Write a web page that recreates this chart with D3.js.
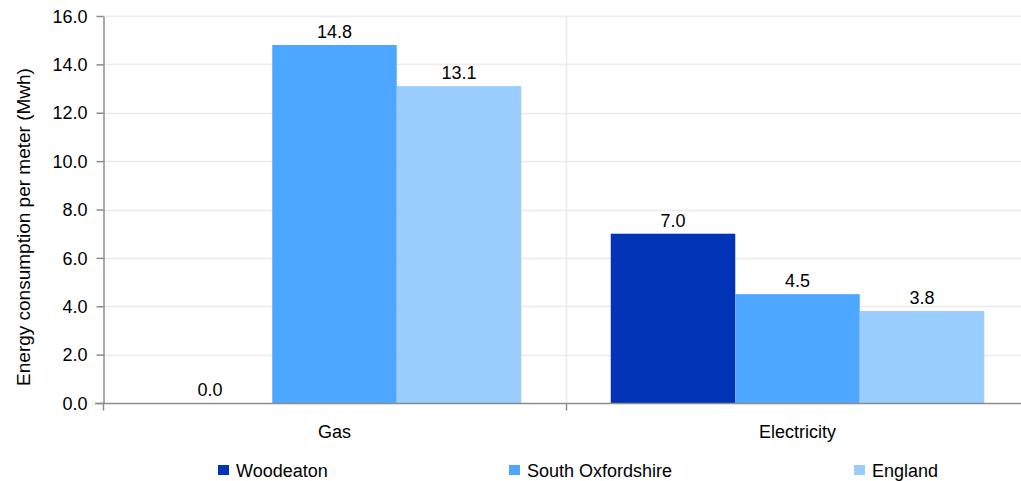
<!DOCTYPE html>
<html><head><meta charset="utf-8">
<script src="https://cdn.jsdelivr.net/npm/d3@7"></script>
<style>body{margin:0;background:#fff}svg{display:block;font-family:"Liberation Sans",Arial,sans-serif}</style>
</head><body>
<svg id="c" width="1021" height="481"></svg>
<script>
const categories = ["Gas", "Electricity"];
const seriesNames = ["Woodeaton", "South Oxfordshire", "England"];
const woodeaton = [0.0, 7.0];
const southOxfordshire = [14.8, 4.5];
const england = [13.1, 3.8];
const yTicks = [0, 2, 4, 6, 8, 10, 12, 14, 16];
const colors = ["#0033b5", "#4da6ff", "#99ccff"];
const seriesValues = [woodeaton, southOxfordshire, england];

(function () {
const svg = d3.select("#c");
const FS = 18;
const pL = 103, pR = 1029, pT = 16, pB = 403;
const x = d3.scaleBand().domain(categories).range([pL, pR]).paddingInner(0).paddingOuter(0);
const xs = d3.scaleBand().domain(seriesNames).range([0, x.bandwidth()]).paddingInner(0).paddingOuter(0.3594);
const y = d3.scaleLinear().domain([0, 16]).range([pB, pT]);

// horizontal grid
svg.append("g").selectAll("line").data(yTicks.slice(1)).join("line")
  .attr("x1", pL).attr("x2", pR).attr("y1", d => Math.round(y(d)) + 0.5).attr("y2", d => Math.round(y(d)) + 0.5)
  .attr("stroke", "#ececec").attr("stroke-width", 1.5);
// vertical grid
svg.append("g").selectAll("line").data(categories.slice(1)).join("line")
  .attr("x1", d => Math.round(x(d)) + 0.5).attr("x2", d => Math.round(x(d)) + 0.5)
  .attr("y1", pT).attr("y2", pB).attr("stroke", "#ececec").attr("stroke-width", 1.5);

// bars
const g = svg.append("g");
seriesNames.forEach((s, si) => {
  categories.forEach((c, ci) => {
    const v = seriesValues[si][ci];
    g.append("rect").attr("x", x(c) + xs(s)).attr("width", xs.bandwidth())
      .attr("y", y(v)).attr("height", y(0) - y(v)).attr("fill", colors[si]);
    g.append("text").attr("x", x(c) + xs(s) + xs.bandwidth() / 2).attr("y", y(v) - 7)
      .attr("text-anchor", "middle").attr("font-size", FS).attr("fill", "#000").text(v.toFixed(1));
  });
});

// y axis
const yAxis = svg.append("g").attr("transform", `translate(${pL + 0.5},0)`)
  .call(d3.axisLeft(y).tickValues(yTicks).tickFormat(d3.format(".1f")).tickSize(7).tickSizeOuter(0));
yAxis.select(".domain").attr("stroke", "#8c8c8c").attr("stroke-width", 1.5);
yAxis.selectAll(".tick line").attr("stroke", "#8c8c8c").attr("stroke-width", 1.5);
yAxis.selectAll(".tick text").attr("font-size", FS).attr("fill", "#000").attr("x", -16).attr("dy", "0.34em")
  .attr("font-family", "Liberation Sans, Arial, sans-serif");

// x axis
const xAxis = svg.append("g").attr("transform", `translate(0,${pB + 0.5})`);
xAxis.append("line").attr("x1", pL - 8).attr("x2", pR).attr("stroke", "#8c8c8c").attr("stroke-width", 1.5);
xAxis.selectAll("line.t").data([pL, ...categories.slice(1).map(c => x(c)), pR]).join("line").attr("class", "t")
  .attr("x1", d => Math.round(d) + 0.5).attr("x2", d => Math.round(d) + 0.5).attr("y1", 0).attr("y2", 7)
  .attr("stroke", "#8c8c8c").attr("stroke-width", 1.5);
xAxis.selectAll("text").data(categories).join("text")
  .attr("x", d => x(d) + x.bandwidth() / 2).attr("y", 34).attr("text-anchor", "middle")
  .attr("font-size", FS).attr("fill", "#000").text(d => d);

// y title
svg.append("text").attr("transform", `translate(30,227) rotate(-90)`)
  .attr("text-anchor", "middle").attr("font-size", 19).attr("fill", "#000")
  .text("Energy consumption per meter (Mwh)");

// legend
const legendX = [218, 509, 854];
const lg = svg.append("g");
seriesNames.forEach((s, i) => {
  lg.append("rect").attr("x", legendX[i]).attr("y", 465).attr("width", 11).attr("height", 10).attr("fill", colors[i]);
  lg.append("text").attr("x", legendX[i] + 18).attr("y", 477).attr("font-size", FS).attr("fill", "#000").text(s);
});
})();
</script>
</body></html>
